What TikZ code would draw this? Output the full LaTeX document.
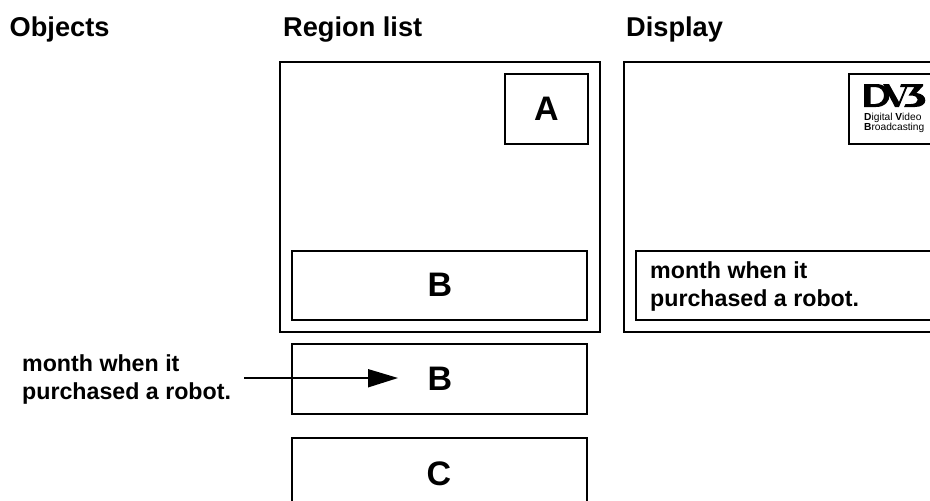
\documentclass[tikz,border=0pt]{standalone}
\usepackage{fontspec}
\setmainfont{Liberation Sans}
\begin{document}
\begin{tikzpicture}[x=1pt,y=-1pt,
  head/.style={font=\fontsize{27.2}{30}\selectfont\bfseries,anchor=base west,inner sep=0pt},
  big/.style={font=\fontsize{34}{38}\selectfont\bfseries,inner sep=0pt,anchor=base},
  two/.style={font=\fontsize{23.2}{27.7}\selectfont\bfseries,align=left,anchor=base west,inner sep=0pt},
  frame/.style={draw=black,line width=1.5pt,fill=white},
  logotxt/.style={font=\fontsize{10.2}{9}\selectfont,align=left,anchor=base west,inner sep=0pt}]
\useasboundingbox (0,0) rectangle (930,501);
\clip (0,0) rectangle (930,501);
\node[head] (h1) at (9.5,36) {Objects};
\node[head] (h2) at (283,36) {Region list};
\node[head] (h3) at (626,36) {Display};
% region list
\draw[frame] (280,62) rectangle (600,332);
\draw[frame] (505,74) rectangle (588,144);
\node[big] (a) at (546.5,120.7) {A};
\draw[frame] (292,251) rectangle (587,320);
\node[big] (b1) at (440,296.5) {B};
\draw[frame] (292,344) rectangle (587,414);
\node[big] (b2) at (440,390.7) {B};
\draw[frame] (292,438) rectangle (587,510);
\node[big] (c) at (439,485) {C};
% display
\draw[frame] (624,62) rectangle (940,332);
\draw[frame] (636,251) rectangle (940,320);
\node[two] (t2) at (650,278) {month when it};
\node[two] (t2b) at (650,306) {purchased a robot.};
\draw[frame] (849,74) rectangle (940,144);
% DVB logo
\fill[even odd rule] (864,84) -- (876,84) .. controls (894,84) and (894,107) .. (876,107) -- (864,107) -- cycle
  (870.5,87) -- (875,87) .. controls (887,87) and (887,104) .. (875,104) -- (870.5,104) -- cycle;
\fill (883,84) -- (889,84) -- (899,102) -- (906.5,84) -- (908.5,84) -- (899,107) -- (895,107) -- cycle;
\fill (901,84) -- (923,84) -- (923,86) -- (916.5,93) .. controls (928,94) and (929,107) .. (915,107) -- (904,107) -- (905.5,104) -- (911,104) .. controls (920,104) and (920,95.5) .. (911,95.5) -- (908.5,95.5) -- (914.5,87) -- (900,87) -- cycle;
\node[logotxt] (l1) at (864,120) {\textbf{D}igital \textbf{V}ideo};
\node[logotxt] (l2) at (864,130) {\textbf{B}roadcasting};
% object
\node[two] (t1a) at (22,371.7) {month when it};
\node[two] (t1b) at (22,399.3) {purchased a robot.};
\coordinate (s) at (244,378);
\coordinate (e) at (398,378);
\draw[line width=1.5pt] (s) -- (370,378);
\fill (368,369) -- (e) -- (368,387.5) -- cycle;
\end{tikzpicture}
\end{document}
